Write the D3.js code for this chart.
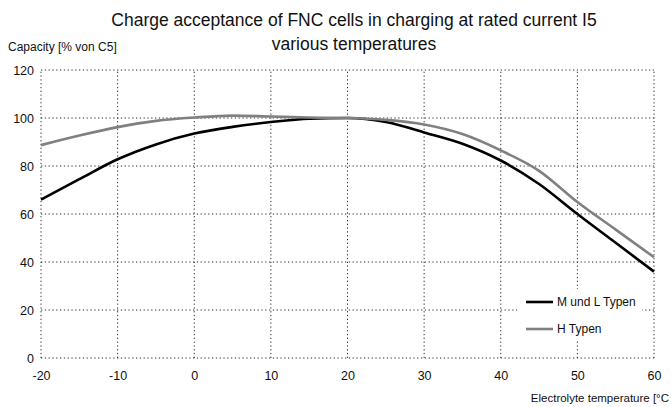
<!DOCTYPE html>
<html>
<head>
<meta charset="utf-8">
<script src="https://cdn.jsdelivr.net/npm/d3@7"></script>
<style>
  body { margin: 0; background: #fff; }
  svg { display: block; font-family: "Liberation Sans", Arial, sans-serif; }
</style>
</head>
<body>
<div id="chart"></div>
<script>
// chart size and plot box
const width = 671;
const height = 407;
const margin = {left: 41, right: 17, top: 70, bottom: 49};

// data
const temps = [-20, -15, -10, -5, 0, 5, 10, 15, 20, 25, 30, 35, 40, 45, 50, 55, 60];
const mlTypen = [66, 74.5, 82.8, 89, 93.5, 96.3, 98.3, 99.7, 100, 98.3, 94, 89.3, 82.3, 72.5, 60, 48, 36];
const hTypen = [88.7, 92.7, 96.2, 98.8, 100.2, 101, 100.6, 100.2, 100, 99.2, 97.3, 93.3, 86.5, 78, 65, 53.5, 42];
const xTicks = [-20, -10, 0, 10, 20, 30, 40, 50, 60];
const yTicks = [0, 20, 40, 60, 80, 100, 120];
const seriesNames = ["M und L Typen", "H Typen"];
const seriesColors = ["#000000", "#808080"];

const svg = d3.select("#chart")
  .append("svg")
  .attr("width", width)
  .attr("height", height);

// scales
const x = d3.scaleLinear()
  .domain([-20, 60])
  .range([margin.left, width - margin.right]);
const y = d3.scaleLinear()
  .domain([0, 120])
  .range([height - margin.bottom, margin.top]);

// dotted grid (incl. frame)
const gridStyle = g => g.attr("stroke", "#333").attr("stroke-width", 1).attr("stroke-dasharray", "1.3,2.5");

svg.append("g").call(gridStyle)
  .selectAll("line.h")
  .data(yTicks)
  .enter().append("line")
    .attr("x1", x(-20)).attr("x2", x(60))
    .attr("y1", d => y(d)).attr("y2", d => y(d));

svg.append("g").call(gridStyle)
  .selectAll("line.v")
  .data(xTicks)
  .enter().append("line")
    .attr("x1", d => x(d)).attr("x2", d => x(d))
    .attr("y1", y(0)).attr("y2", y(120));

// axes labels (no domain lines, just text); plain hyphen for negatives
const yAxis = svg.append("g")
  .attr("transform", `translate(${margin.left},0)`)
  .call(d3.axisLeft(y).tickValues(yTicks).tickSize(0).tickPadding(7).tickFormat(d => String(d)));
yAxis.select(".domain").remove();
yAxis.selectAll("text").attr("font-size", 12.5).attr("fill", "#111")
  .attr("font-family", "Liberation Sans, Arial, sans-serif");

const xAxis = svg.append("g")
  .attr("transform", `translate(0,${y(0)})`)
  .call(d3.axisBottom(x).tickValues(xTicks).tickSize(0).tickPadding(13).tickFormat(d => String(d)));
xAxis.select(".domain").remove();
xAxis.selectAll("text").attr("font-size", 12.5).attr("fill", "#111")
  .attr("font-family", "Liberation Sans, Arial, sans-serif");

// curves
const line = d3.line()
  .x((d, i) => x(temps[i]))
  .y(d => y(d))
  .curve(d3.curveMonotoneX);

[mlTypen, hTypen].forEach((vals, i) => {
  svg.append("path")
    .datum(vals)
    .attr("fill", "none")
    .attr("stroke", seriesColors[i])
    .attr("stroke-width", 2.6)
    .attr("stroke-linejoin", "round")
    .attr("d", line);
});

// legend
svg.append("rect")
  .attr("x", 517).attr("y", 289)
  .attr("width", 125).attr("height", 51)
  .attr("fill", "#fff");

seriesNames.forEach((name, i) => {
  const ly = 302 + i * 27;
  svg.append("line")
    .attr("x1", 526).attr("x2", 553)
    .attr("y1", ly).attr("y2", ly)
    .attr("stroke", seriesColors[i])
    .attr("stroke-width", 2.6);
  svg.append("text")
    .attr("x", 557).attr("y", ly + 4)
    .attr("font-size", 12)
    .attr("fill", "#111")
    .text(name);
});

// titles
svg.append("text")
  .attr("x", 354).attr("y", 26)
  .attr("text-anchor", "middle")
  .attr("font-size", 17.5)
  .attr("fill", "#111")
  .text("Charge acceptance of FNC cells in charging at rated current I5");
svg.append("text")
  .attr("x", 354).attr("y", 50)
  .attr("text-anchor", "middle")
  .attr("font-size", 17.5)
  .attr("fill", "#111")
  .text("various temperatures");

svg.append("text")
  .attr("x", 8).attr("y", 51)
  .attr("font-size", 12)
  .attr("fill", "#111")
  .text("Capacity [% von C5]");

// x axis title, kept just inside the right edge
svg.append("text")
  .attr("x", 669).attr("y", 402)
  .attr("text-anchor", "end")
  .attr("font-size", 11.5)
  .attr("fill", "#111")
  .text("Electrolyte temperature  [°C");
</script>
</body>
</html>
